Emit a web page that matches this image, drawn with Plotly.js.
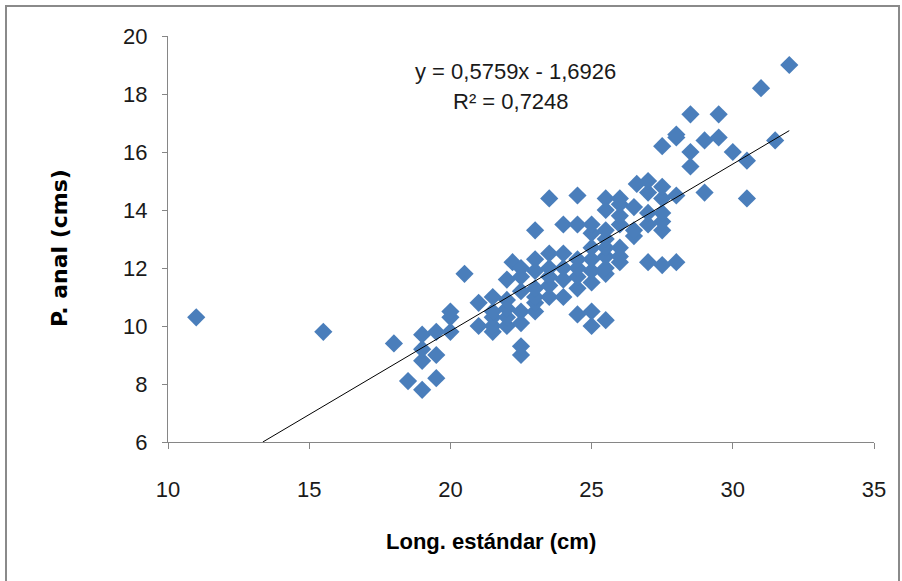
<!DOCTYPE html>
<html>
<head>
<meta charset="utf-8">
<script src="https://cdn.plot.ly/plotly-3.0.1.min.js"></script>
<style>
html,body{margin:0;padding:0;background:#fff;overflow:hidden;}
#wrap{position:relative;width:902px;height:581px;}
#chart{position:absolute;left:0;top:0;width:902px;height:581px;}
#frame{position:absolute;left:5px;top:5px;width:891px;height:590px;border:2px solid #8a8a8a;pointer-events:none;}
</style>
</head>
<body>
<div id="wrap"><div id="chart"></div><div id="frame"></div></div>
<script>
// Data
const longEstandar = [11,15.5,18,18.5,19,19,19,19,19.5,19.5,19.5,20,20,20,20.5,21,21,21.5,21.5,21.5,21.5,21.5,
  22,22,22,22,22,22.2,22.5,22.5,22.5,22.5,22.5,22.5,22.5,23,23,23,23,23,23,23,
  23.5,23.5,23.5,23.5,23.5,23.5,24,24,24,24,24,24.5,24.5,24.5,24.5,24.5,24.5,24.5,
  25,25,25,25,25,25,25,25,25.5,25.5,25.5,25.5,25.5,25.5,25.5,25.5,25.5,
  26,26,26,26,26,26,26,26.5,26.5,26.5,26.6,27,27,27,27,27,
  27.5,27.5,27.5,27.5,27.5,27.5,27.5,28,28,28,28,28.5,28.5,28.5,29,29,29.5,29.5,
  30,30.5,30.5,31,31.5,32];
const pAnal = [10.3,9.8,9.4,8.1,7.8,8.8,9.2,9.7,8.2,9.0,9.8,9.8,10.3,10.5,11.8,10.0,10.8,9.8,10.0,10.3,10.5,11.0,
  10.0,10.3,10.6,10.9,11.6,12.2,9.0,9.3,10.1,10.5,11.2,11.7,12.0,10.5,10.8,11.0,11.3,11.9,12.3,13.3,
  11.0,11.4,11.7,12.0,12.5,14.4,11.0,11.6,12.0,12.5,13.5,10.4,11.3,11.7,12.0,12.3,13.5,14.5,
  10.0,10.5,11.5,11.9,12.3,12.7,13.2,13.5,10.2,11.8,12.0,12.4,12.7,13.0,13.3,14.0,14.4,
  12.2,12.4,12.7,13.5,13.8,14.2,14.4,13.1,13.3,14.1,14.9,12.2,13.5,13.9,14.6,15.0,
  12.1,13.3,13.6,13.9,14.4,14.8,16.2,12.2,14.5,16.5,16.6,15.5,16.0,17.3,14.6,16.4,16.5,17.3,
  16.0,14.4,15.7,18.2,16.4,19.0];
// Linear trendline from the equation shown on the chart
const slope = 0.5759;
const intercept = -1.6926;
const trendX = [(6 - intercept) / slope, 32];
const trendY = trendX.map(x => slope * x + intercept);
const eqText = "y = 0,5759x - 1,6926";
const r2Text = "R² = 0,7248";
const xTicks = [10,15,20,25,30,35];
const yTicks = [6,8,10,12,14,16,18,20];

const narrow = "Liberation Sans Narrow, Arial Narrow, Liberation Sans, sans-serif";
const tickFont = {family: narrow, size: 22, color: "#1a1a1a"};

const data = [
  {x: longEstandar, y: pAnal, type: "scatter", mode: "markers",
   marker: {symbol: "diamond", size: 14, color: "#4A7EBB", line: {width: 0}},
   hoverinfo: "x+y", showlegend: false},
  {x: trendX, y: trendY, type: "scatter", mode: "lines",
   line: {color: "#000000", width: 1}, showlegend: false, hoverinfo: "skip"}
];

const axisCommon = {showgrid: false, zeroline: false, showline: true, linecolor: "#868686", linewidth: 1,
  ticks: "outside", tickcolor: "#868686", ticklen: 5, tickwidth: 1, tickfont: tickFont, fixedrange: true};

const layout = {
  width: 902, height: 581,
  margin: {l: 168, r: 28, t: 36, b: 139},
  paper_bgcolor: "#ffffff", plot_bgcolor: "#ffffff",
  xaxis: Object.assign({}, axisCommon, {range: [10, 35], tickvals: xTicks, ticktext: xTicks.map(String),
    ticklen: 6, ticklabelstandoff: 22}),
  yaxis: Object.assign({}, axisCommon, {range: [6, 20], tickvals: yTicks, ticktext: yTicks.map(String),
    ticklabelstandoff: 10}),
  annotations: [
    {xref: "x", yref: "y", x: 22.3, y: 18.78, text: eqText, showarrow: false, xanchor: "center", yanchor: "middle",
     font: {family: narrow, size: 22, color: "#1a1a1a"}},
    {xref: "x", yref: "y", x: 22.15, y: 17.75, text: r2Text, showarrow: false, xanchor: "center", yanchor: "middle",
     font: {family: narrow, size: 22, color: "#1a1a1a"}},
    {xref: "paper", yref: "paper", x: -0.153, y: 0.478, text: "P. anal (cms)", textangle: -90, showarrow: false,
     xanchor: "center", yanchor: "middle",
     font: {family: "DejaVu Sans, Verdana, sans-serif", size: 22, color: "#000", weight: "bold"}},
    {xref: "paper", yref: "paper", x: 0.458, y: -0.246, text: "Long. estándar (cm)", showarrow: false,
     xanchor: "center", yanchor: "middle",
     font: {family: narrow, size: 22, color: "#000", weight: "bold"}}
  ]
};

Plotly.newPlot("chart", data, layout, {displayModeBar: false, staticPlot: true});
</script>
</body>
</html>
